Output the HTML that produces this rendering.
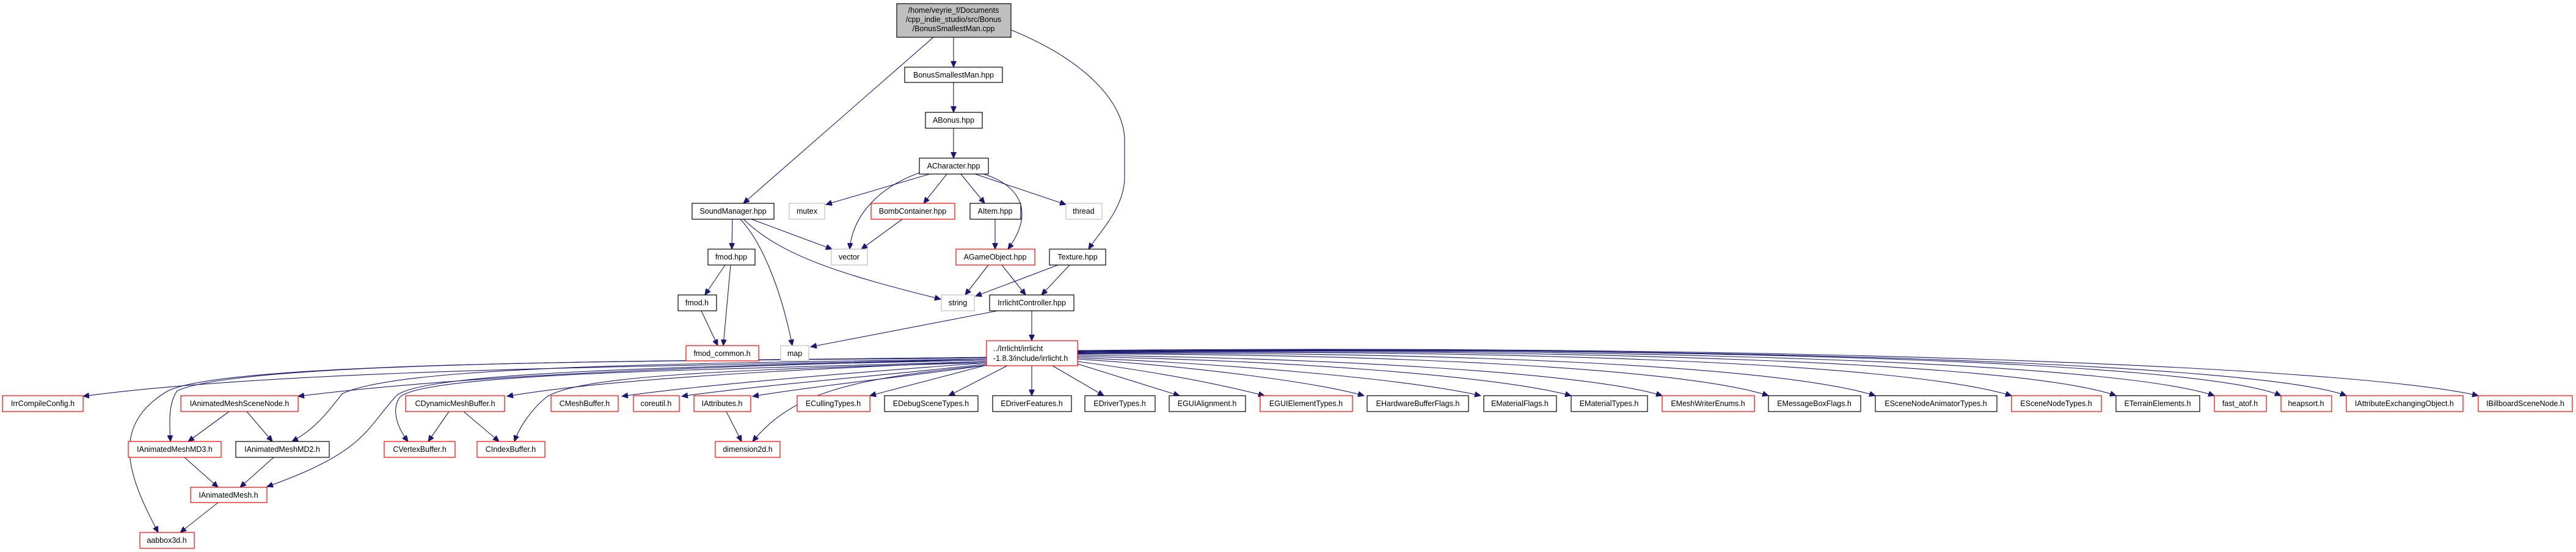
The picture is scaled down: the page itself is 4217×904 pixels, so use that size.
<!DOCTYPE html>
<html><head><meta charset="utf-8"><style>
html,body{margin:0;padding:0;background:#fff;}
svg{display:block;}
text{font-family:"Liberation Sans",Arial,sans-serif;font-size:12.5px;fill:#000;}
.b{fill:#fff;stroke:#000;stroke-width:1.2}
.r{fill:#fff;stroke:#ff0000;stroke-width:1.2}
.g{fill:#fff;stroke:#bfbfbf;stroke-width:1.2}
path{fill:none;stroke:#191970;stroke-width:1.1}
</style></head><body>
<svg width="4217" height="904" viewBox="0 0 4217 904" xmlns="http://www.w3.org/2000/svg">
<defs><marker id="a" markerUnits="userSpaceOnUse" markerWidth="11" markerHeight="9" refX="10" refY="4.5" orient="auto"><polygon points="0,0 10,4.5 0,9" fill="#191970" stroke="#191970"/></marker></defs>
<g marker-end="url(#a)">
<path d="M1561,61 L1561,110"/>
<path d="M1561,135 L1561,184"/>
<path d="M1561,210 L1561,259"/>
<path d="M1528,61 L1217,333"/>
<path d="M1655,49 C1780,100 1841,170 1841,230 L1841,290 C1841,340 1800,380 1782,408"/>
<path d="M1522,285 L1352,335"/>
<path d="M1505,283 C1430,310 1395,360 1391,408"/>
<path d="M1550,285 L1512,333"/>
<path d="M1573,285 L1612,333"/>
<path d="M1610,285 C1660,300 1700,340 1650,408"/>
<path d="M1596,285 L1745,335"/>
<path d="M1199,359 L1198,408"/>
<path d="M1230,359 L1362,408"/>
<path d="M1217,359 C1280,420 1380,450 1540,490"/>
<path d="M1212,359 C1250,400 1280,480 1297,566"/>
<path d="M1477,359 L1410,408"/>
<path d="M1629,359 L1629,408"/>
<path d="M1187,434 L1154,483"/>
<path d="M1196,434 L1184,566"/>
<path d="M1148,509 L1175,566"/>
<path d="M1618,434 L1580,483"/>
<path d="M1640,434 L1679,483"/>
<path d="M1732,434 L1597,485"/>
<path d="M1751,434 L1705,483"/>
<path d="M1633,509 L1327,568"/>
<path d="M1689,509 L1689,558"/>
<!-- left side -->
<path d="M1615,588 C1200,600 500,600 136,649"/>
<path d="M1615,588 C1200,600 800,610 488,649"/>
<path d="M1615,585 C1100,592 400,590 290,640 C276,660 277,690 279,723"/>
<path d="M1615,588 C1100,595 650,600 560,645 C540,670 520,700 478,723"/>
<path d="M1615,590 C1100,600 700,610 650,647 C600,700 600,740 437,797"/>
<path d="M1615,586 C1100,592 350,590 270,643 C180,700 210,780 259,872"/>
<path d="M1615,592 C1300,605 1000,620 830,649"/>
<path d="M1615,592 C1200,605 700,610 655,650 C640,670 650,700 668,723"/>
<path d="M1615,594 C1200,605 950,615 895,650 C870,670 850,700 842,723"/>
<path d="M1615,594 C1400,610 1150,630 1018,649"/>
<path d="M1615,596 C1450,615 1250,630 1116,649"/>
<path d="M1615,598 C1500,615 1350,630 1232,649"/>
<path d="M1615,598 C1400,620 1300,640 1232,723"/>
<path d="M375,674 L308,723"/>
<path d="M404,674 L446,723"/>
<path d="M735,674 L701,723"/>
<path d="M759,674 L817,723"/>
<path d="M1189,674 L1214,723"/>
<path d="M302,749 L357,798"/>
<path d="M448,749 L393,798"/>
<path d="M357,823 L295,872"/>
<!-- right side -->
<path d="M1615,598 L1424,648"/>
<path d="M1649,599 L1553,648"/>
<path d="M1689,599 L1689,648"/>
<path d="M1723,599 L1807,648"/>
<path d="M1764,596 L1931,648"/>
<path d="M1764,592 C1900,610 2000,630 2070,648"/>
<path d="M1764,588 C1950,600 2150,625 2233,648"/>
<path d="M1764,586 C2000,595 2300,620 2424,648"/>
<path d="M1764,584 C2100,590 2450,615 2572,648"/>
<path d="M1764,582 C2150,585 2600,610 2721,648"/>
<path d="M1764,580 C2200,578 2750,600 2895,648"/>
<path d="M1764,579 C2300,575 2900,595 3070,648"/>
<path d="M1764,578 C2400,572 3100,590 3293,648"/>
<path d="M1764,577 C2500,570 3300,590 3464,648"/>
<path d="M1764,576 C2600,568 3450,590 3625,648"/>
<path d="M1764,576 C2700,566 3600,590 3734,648"/>
<path d="M1764,575 C2800,565 3700,595 3841,648"/>
<path d="M1764,574 C2900,563 3850,600 4057,648"/>
</g>
<!-- nodes -->
<rect x="1468" y="6" width="187" height="55" fill="#bfbfbf" stroke="#000" stroke-width="1.2"/>
<text x="1561" y="21" text-anchor="middle">/home/veyrie_f/Documents</text>
<text x="1561" y="36" text-anchor="middle">/cpp_indie_studio/src/Bonus</text>
<text x="1561" y="51" text-anchor="middle">/BonusSmallestMan.cpp</text>
<g text-anchor="middle">
<rect class="b" x="1481" y="110" width="160" height="25"/><text x="1561" y="127">BonusSmallestMan.hpp</text>
<rect class="b" x="1515" y="184" width="93" height="26"/><text x="1561" y="201">ABonus.hpp</text>
<rect class="b" x="1505" y="259" width="113" height="26"/><text x="1561" y="276">ACharacter.hpp</text>
<rect class="b" x="1133" y="333" width="134" height="26"/><text x="1200" y="350">SoundManager.hpp</text>
<rect class="g" x="1292" y="333" width="58" height="26"/><text x="1321" y="350">mutex</text>
<rect class="r" x="1426" y="333" width="137" height="26"/><text x="1494" y="350">BombContainer.hpp</text>
<rect class="b" x="1588" y="333" width="83" height="26"/><text x="1629" y="350">AItem.hpp</text>
<rect class="g" x="1745" y="333" width="59" height="26"/><text x="1774" y="350">thread</text>
<rect class="b" x="1159" y="408" width="77" height="26"/><text x="1197" y="425">fmod.hpp</text>
<rect class="g" x="1361" y="408" width="59" height="26"/><text x="1390" y="425">vector</text>
<rect class="r" x="1565" y="408" width="129" height="26"/><text x="1629" y="425">AGameObject.hpp</text>
<rect class="b" x="1718" y="408" width="92" height="26"/><text x="1764" y="425">Texture.hpp</text>
<rect class="b" x="1110" y="483" width="63" height="26"/><text x="1141" y="500">fmod.h</text>
<rect class="g" x="1541" y="483" width="54" height="26"/><text x="1568" y="500">string</text>
<rect class="b" x="1620" y="483" width="138" height="26"/><text x="1689" y="500">IrrlichtController.hpp</text>
<rect class="r" x="1123" y="566" width="119" height="25"/><text x="1182" y="583">fmod_common.h</text>
<rect class="g" x="1278" y="566" width="46" height="25"/><text x="1301" y="583">map</text>
</g>
<rect class="r" x="1615" y="558" width="149" height="41"/>
<text x="1626" y="575">../Irrlicht/irrlicht</text>
<text x="1626" y="591">-1.8.3/include/irrlicht.h</text>
<g text-anchor="middle">
<rect class="r" x="4" y="648" width="132" height="26"/><text x="70" y="665">IrrCompileConfig.h</text>
<rect class="r" x="296" y="648" width="192" height="26"/><text x="392" y="665">IAnimatedMeshSceneNode.h</text>
<rect class="r" x="664" y="648" width="162" height="26"/><text x="745" y="665">CDynamicMeshBuffer.h</text>
<rect class="r" x="902" y="648" width="110" height="26"/><text x="957" y="665">CMeshBuffer.h</text>
<rect class="r" x="1037" y="648" width="75" height="26"/><text x="1074" y="665">coreutil.h</text>
<rect class="r" x="1136" y="648" width="93" height="26"/><text x="1182" y="665">IAttributes.h</text>
<rect class="r" x="1305" y="648" width="119" height="26"/><text x="1364" y="665">ECullingTypes.h</text>
<rect class="b" x="1448" y="648" width="153" height="26"/><text x="1524" y="665">EDebugSceneTypes.h</text>
<rect class="b" x="1625" y="648" width="129" height="26"/><text x="1689" y="665">EDriverFeatures.h</text>
<rect class="b" x="1776" y="648" width="115" height="26"/><text x="1833" y="665">EDriverTypes.h</text>
<rect class="b" x="1914" y="648" width="125" height="26"/><text x="1976" y="665">EGUIAlignment.h</text>
<rect class="r" x="2063" y="648" width="151" height="26"/><text x="2138" y="665">EGUIElementTypes.h</text>
<rect class="b" x="2238" y="648" width="166" height="26"/><text x="2321" y="665">EHardwareBufferFlags.h</text>
<rect class="b" x="2429" y="648" width="119" height="26"/><text x="2488" y="665">EMaterialFlags.h</text>
<rect class="b" x="2572" y="648" width="125" height="26"/><text x="2634" y="665">EMaterialTypes.h</text>
<rect class="r" x="2721" y="648" width="151" height="26"/><text x="2796" y="665">EMeshWriterEnums.h</text>
<rect class="b" x="2895" y="648" width="151" height="26"/><text x="2970" y="665">EMessageBoxFlags.h</text>
<rect class="b" x="3070" y="648" width="199" height="26"/><text x="3169" y="665">ESceneNodeAnimatorTypes.h</text>
<rect class="r" x="3293" y="648" width="147" height="26"/><text x="3366" y="665">ESceneNodeTypes.h</text>
<rect class="b" x="3464" y="648" width="137" height="26"/><text x="3532" y="665">ETerrainElements.h</text>
<rect class="r" x="3625" y="648" width="85" height="26"/><text x="3667" y="665">fast_atof.h</text>
<rect class="r" x="3734" y="648" width="83" height="26"/><text x="3775" y="665">heapsort.h</text>
<rect class="r" x="3841" y="648" width="191" height="26"/><text x="3936" y="665">IAttributeExchangingObject.h</text>
<rect class="r" x="4057" y="648" width="154" height="26"/><text x="4134" y="665">IBillboardSceneNode.h</text>
<rect class="r" x="210" y="723" width="152" height="26"/><text x="286" y="740">IAnimatedMeshMD3.h</text>
<rect class="b" x="386" y="723" width="153" height="26"/><text x="462" y="740">IAnimatedMeshMD2.h</text>
<rect class="r" x="629" y="723" width="116" height="26"/><text x="687" y="740">CVertexBuffer.h</text>
<rect class="r" x="781" y="723" width="111" height="26"/><text x="836" y="740">CIndexBuffer.h</text>
<rect class="r" x="1171" y="723" width="106" height="26"/><text x="1224" y="740">dimension2d.h</text>
<rect class="r" x="312" y="798" width="125" height="25"/><text x="374" y="815">IAnimatedMesh.h</text>
<rect class="r" x="229" y="872" width="89" height="26"/><text x="273" y="889">aabbox3d.h</text>
</g>
</svg>
</body></html>
